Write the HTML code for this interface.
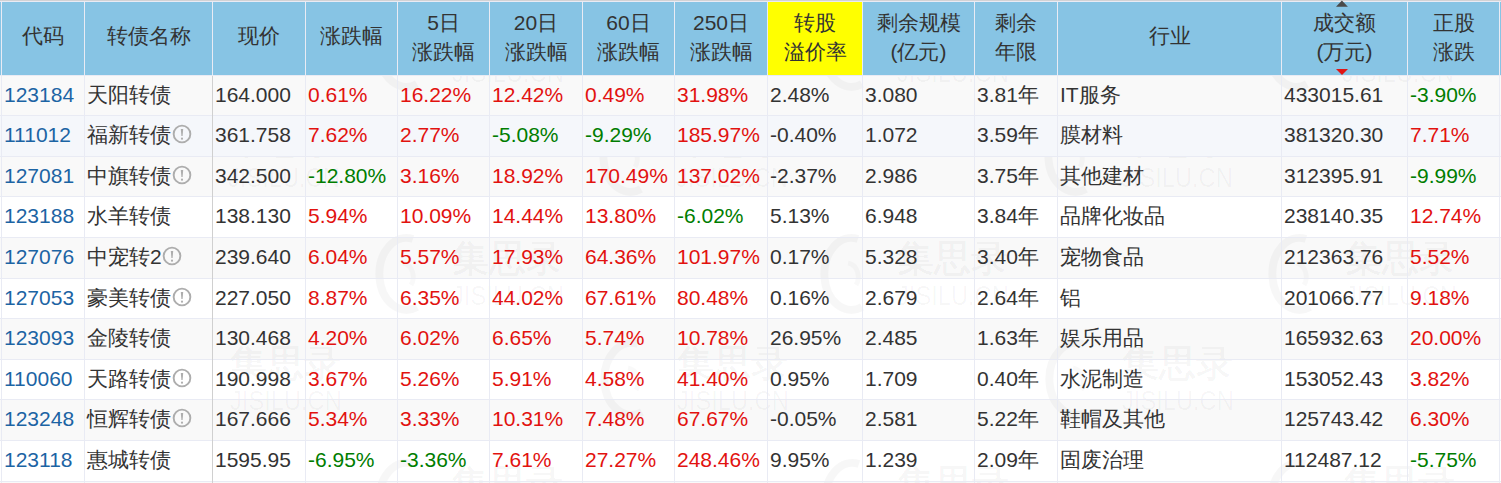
<!DOCTYPE html>
<html><head><meta charset="utf-8"><title>集思录 可转债</title>
<style>
html,body{margin:0;padding:0;}
body{width:1501px;height:483px;overflow:hidden;position:relative;background:#fff;
font-family:"Liberation Sans",sans-serif;font-size:21px;color:#333;}
.a{position:absolute;box-sizing:border-box;white-space:nowrap;overflow:hidden;}
.h{background:#87c4e4;color:#333;text-align:center;line-height:29px;display:flex;flex-direction:column;justify-content:center;padding-bottom:2.5px;}
.h.s{padding-bottom:5.5px;}
.h.y{background:#ffff00;}
.c{padding-left:2px;}
.r{color:#e2120f}.g{color:#007d00}.k{color:#1c64a4}
.vl{position:absolute;width:1px;background:#e9ebf4;}
.hl{position:absolute;height:1px;background:#e9ebf4;left:0;width:1501px;}
.wm1{font-size:37px;line-height:46px;font-weight:bold;color:rgba(0,0,0,0.035);}
.wm2{font-size:28.5px;line-height:28px;color:rgba(0,0,0,0.035);transform:scaleX(0.83);transform-origin:0 0;letter-spacing:0px;}
.nm{display:inline-block;}
.ic{display:inline-block;vertical-align:middle;margin-left:0.8px;position:relative;top:-2px;}
</style></head><body>

<div class="hl" style="top:0;background:#d2d2d4"></div>
<div class="hl" style="top:1px;background:#e9ebf4"></div>
<div class="a" style="left:0;top:2px;width:1501px;height:73px;background:#87c4e4"></div>
<div class="a h s" style="left:2px;top:2px;width:82px;height:73px"><div>代码</div></div>
<div class="a h s" style="left:85px;top:2px;width:127px;height:73px"><div>转债名称</div></div>
<div class="a h s" style="left:213px;top:2px;width:92px;height:73px"><div>现价</div></div>
<div class="a h s" style="left:306px;top:2px;width:91px;height:73px"><div>涨跌幅</div></div>
<div class="a h" style="left:398px;top:2px;width:91px;height:73px"><div>5日</div><div>涨跌幅</div></div>
<div class="a h" style="left:490px;top:2px;width:92px;height:73px"><div>20日</div><div>涨跌幅</div></div>
<div class="a h" style="left:583px;top:2px;width:91px;height:73px"><div>60日</div><div>涨跌幅</div></div>
<div class="a h" style="left:675px;top:2px;width:92px;height:73px"><div>250日</div><div>涨跌幅</div></div>
<div class="a h y" style="left:768px;top:2px;width:94px;height:73px"><div>转股</div><div>溢价率</div></div>
<div class="a h" style="left:863px;top:2px;width:111px;height:73px"><div>剩余规模</div><div>(亿元)</div></div>
<div class="a h" style="left:975px;top:2px;width:82px;height:73px"><div>剩余</div><div>年限</div></div>
<div class="a h s" style="left:1058px;top:2px;width:223px;height:73px"><div>行业</div></div>
<div class="a h" style="left:1282px;top:2px;width:125px;height:73px"><div>成交额</div><div>(万元)</div></div>
<div class="a h" style="left:1408px;top:2px;width:91px;height:73px"><div>正股</div><div>涨跌</div></div>
<svg class="a" style="left:1336px;top:0px" width="13" height="8" viewBox="0 0 13 8"><polygon points="0,6.8 5.9,0.6 11.9,6.8" fill="#4a4a4a"/></svg>
<svg class="a" style="left:1336px;top:68px" width="13" height="8" viewBox="0 0 13 8"><polygon points="0,1 12,1 6,6.9" fill="#e01515"/></svg>
<div class="hl" style="top:75px;background:#e9ebf4"></div>
<div class="a" style="left:0;top:76px;width:1501px;height:39px;background:#f9f9f9"></div>
<div class="a" style="left:0;top:116px;width:1501px;height:40px;background:#f5f7fb"></div>
<div class="a" style="left:0;top:157px;width:1501px;height:39px;background:#f9f9f9"></div>
<div class="a" style="left:0;top:197px;width:1501px;height:40px;background:#ffffff"></div>
<div class="a" style="left:0;top:238px;width:1501px;height:40px;background:#f9f9f9"></div>
<div class="a" style="left:0;top:279px;width:1501px;height:39px;background:#ffffff"></div>
<div class="a" style="left:0;top:319px;width:1501px;height:40px;background:#f9f9f9"></div>
<div class="a" style="left:0;top:360px;width:1501px;height:39px;background:#ffffff"></div>
<div class="a" style="left:0;top:400px;width:1501px;height:40px;background:#f9f9f9"></div>
<div class="a" style="left:0;top:441px;width:1501px;height:40px;background:#ffffff"></div>
<div class="a" style="left:0;top:482px;width:1501px;height:1px;background:#f9f9f9"></div>
<div class="a" style="left:213px;top:76px;width:1288px;height:407px;overflow:hidden">
<svg class="a" style="left:-286px;top:-66px" width="60" height="82" viewBox="0 0 60 82"><path d="M40 6 A27 36 0 1 0 44 74" fill="none" stroke="rgba(0,0,0,0.03)" stroke-width="8"/><path d="M30 30 A12 14 0 0 1 38 52" fill="none" stroke="rgba(0,0,0,0.025)" stroke-width="5"/></svg>
<div class="a wm1" style="left:-207px;top:-63px">集思录</div>
<div class="a wm2" style="left:-207px;top:-18px">JISILU.CN</div>
<svg class="a" style="left:160px;top:-66px" width="60" height="82" viewBox="0 0 60 82"><path d="M40 6 A27 36 0 1 0 44 74" fill="none" stroke="rgba(0,0,0,0.03)" stroke-width="8"/><path d="M30 30 A12 14 0 0 1 38 52" fill="none" stroke="rgba(0,0,0,0.025)" stroke-width="5"/></svg>
<div class="a wm1" style="left:239px;top:-63px">集思录</div>
<div class="a wm2" style="left:239px;top:-18px">JISILU.CN</div>
<svg class="a" style="left:605px;top:-66px" width="60" height="82" viewBox="0 0 60 82"><path d="M40 6 A27 36 0 1 0 44 74" fill="none" stroke="rgba(0,0,0,0.03)" stroke-width="8"/><path d="M30 30 A12 14 0 0 1 38 52" fill="none" stroke="rgba(0,0,0,0.025)" stroke-width="5"/></svg>
<div class="a wm1" style="left:684px;top:-63px">集思录</div>
<div class="a wm2" style="left:684px;top:-18px">JISILU.CN</div>
<svg class="a" style="left:1050px;top:-66px" width="60" height="82" viewBox="0 0 60 82"><path d="M40 6 A27 36 0 1 0 44 74" fill="none" stroke="rgba(0,0,0,0.03)" stroke-width="8"/><path d="M30 30 A12 14 0 0 1 38 52" fill="none" stroke="rgba(0,0,0,0.025)" stroke-width="5"/></svg>
<div class="a wm1" style="left:1129px;top:-63px">集思录</div>
<div class="a wm2" style="left:1129px;top:-18px">JISILU.CN</div>
<svg class="a" style="left:-64px;top:39px" width="60" height="82" viewBox="0 0 60 82"><path d="M40 6 A27 36 0 1 0 44 74" fill="none" stroke="rgba(0,0,0,0.03)" stroke-width="8"/><path d="M30 30 A12 14 0 0 1 38 52" fill="none" stroke="rgba(0,0,0,0.025)" stroke-width="5"/></svg>
<div class="a wm1" style="left:15px;top:42px">集思录</div>
<div class="a wm2" style="left:15px;top:87px">JISILU.CN</div>
<svg class="a" style="left:384px;top:39px" width="60" height="82" viewBox="0 0 60 82"><path d="M40 6 A27 36 0 1 0 44 74" fill="none" stroke="rgba(0,0,0,0.03)" stroke-width="8"/><path d="M30 30 A12 14 0 0 1 38 52" fill="none" stroke="rgba(0,0,0,0.025)" stroke-width="5"/></svg>
<div class="a wm1" style="left:463px;top:42px">集思录</div>
<div class="a wm2" style="left:463px;top:87px">JISILU.CN</div>
<svg class="a" style="left:829px;top:39px" width="60" height="82" viewBox="0 0 60 82"><path d="M40 6 A27 36 0 1 0 44 74" fill="none" stroke="rgba(0,0,0,0.03)" stroke-width="8"/><path d="M30 30 A12 14 0 0 1 38 52" fill="none" stroke="rgba(0,0,0,0.025)" stroke-width="5"/></svg>
<div class="a wm1" style="left:908px;top:42px">集思录</div>
<div class="a wm2" style="left:908px;top:87px">JISILU.CN</div>
<svg class="a" style="left:-286px;top:157px" width="60" height="82" viewBox="0 0 60 82"><path d="M40 6 A27 36 0 1 0 44 74" fill="none" stroke="rgba(0,0,0,0.03)" stroke-width="8"/><path d="M30 30 A12 14 0 0 1 38 52" fill="none" stroke="rgba(0,0,0,0.025)" stroke-width="5"/></svg>
<div class="a wm1" style="left:-207px;top:160px">集思录</div>
<div class="a wm2" style="left:-207px;top:205px">JISILU.CN</div>
<svg class="a" style="left:160px;top:157px" width="60" height="82" viewBox="0 0 60 82"><path d="M40 6 A27 36 0 1 0 44 74" fill="none" stroke="rgba(0,0,0,0.03)" stroke-width="8"/><path d="M30 30 A12 14 0 0 1 38 52" fill="none" stroke="rgba(0,0,0,0.025)" stroke-width="5"/></svg>
<div class="a wm1" style="left:239px;top:160px">集思录</div>
<div class="a wm2" style="left:239px;top:205px">JISILU.CN</div>
<svg class="a" style="left:605px;top:157px" width="60" height="82" viewBox="0 0 60 82"><path d="M40 6 A27 36 0 1 0 44 74" fill="none" stroke="rgba(0,0,0,0.03)" stroke-width="8"/><path d="M30 30 A12 14 0 0 1 38 52" fill="none" stroke="rgba(0,0,0,0.025)" stroke-width="5"/></svg>
<div class="a wm1" style="left:684px;top:160px">集思录</div>
<div class="a wm2" style="left:684px;top:205px">JISILU.CN</div>
<svg class="a" style="left:1053px;top:157px" width="60" height="82" viewBox="0 0 60 82"><path d="M40 6 A27 36 0 1 0 44 74" fill="none" stroke="rgba(0,0,0,0.03)" stroke-width="8"/><path d="M30 30 A12 14 0 0 1 38 52" fill="none" stroke="rgba(0,0,0,0.025)" stroke-width="5"/></svg>
<div class="a wm1" style="left:1132px;top:160px">集思录</div>
<div class="a wm2" style="left:1132px;top:205px">JISILU.CN</div>
<svg class="a" style="left:-62px;top:262px" width="60" height="82" viewBox="0 0 60 82"><path d="M40 6 A27 36 0 1 0 44 74" fill="none" stroke="rgba(0,0,0,0.03)" stroke-width="8"/><path d="M30 30 A12 14 0 0 1 38 52" fill="none" stroke="rgba(0,0,0,0.025)" stroke-width="5"/></svg>
<div class="a wm1" style="left:17px;top:265px">集思录</div>
<div class="a wm2" style="left:17px;top:310px">JISILU.CN</div>
<svg class="a" style="left:385px;top:262px" width="60" height="82" viewBox="0 0 60 82"><path d="M40 6 A27 36 0 1 0 44 74" fill="none" stroke="rgba(0,0,0,0.03)" stroke-width="8"/><path d="M30 30 A12 14 0 0 1 38 52" fill="none" stroke="rgba(0,0,0,0.025)" stroke-width="5"/></svg>
<div class="a wm1" style="left:464px;top:265px">集思录</div>
<div class="a wm2" style="left:464px;top:310px">JISILU.CN</div>
<svg class="a" style="left:830px;top:262px" width="60" height="82" viewBox="0 0 60 82"><path d="M40 6 A27 36 0 1 0 44 74" fill="none" stroke="rgba(0,0,0,0.03)" stroke-width="8"/><path d="M30 30 A12 14 0 0 1 38 52" fill="none" stroke="rgba(0,0,0,0.025)" stroke-width="5"/></svg>
<div class="a wm1" style="left:909px;top:265px">集思录</div>
<div class="a wm2" style="left:909px;top:310px">JISILU.CN</div>
<svg class="a" style="left:-286px;top:382px" width="60" height="82" viewBox="0 0 60 82"><path d="M40 6 A27 36 0 1 0 44 74" fill="none" stroke="rgba(0,0,0,0.03)" stroke-width="8"/><path d="M30 30 A12 14 0 0 1 38 52" fill="none" stroke="rgba(0,0,0,0.025)" stroke-width="5"/></svg>
<div class="a wm1" style="left:-207px;top:385px">集思录</div>
<div class="a wm2" style="left:-207px;top:430px">JISILU.CN</div>
<svg class="a" style="left:160px;top:382px" width="60" height="82" viewBox="0 0 60 82"><path d="M40 6 A27 36 0 1 0 44 74" fill="none" stroke="rgba(0,0,0,0.03)" stroke-width="8"/><path d="M30 30 A12 14 0 0 1 38 52" fill="none" stroke="rgba(0,0,0,0.025)" stroke-width="5"/></svg>
<div class="a wm1" style="left:239px;top:385px">集思录</div>
<div class="a wm2" style="left:239px;top:430px">JISILU.CN</div>
<svg class="a" style="left:606px;top:382px" width="60" height="82" viewBox="0 0 60 82"><path d="M40 6 A27 36 0 1 0 44 74" fill="none" stroke="rgba(0,0,0,0.03)" stroke-width="8"/><path d="M30 30 A12 14 0 0 1 38 52" fill="none" stroke="rgba(0,0,0,0.025)" stroke-width="5"/></svg>
<div class="a wm1" style="left:685px;top:385px">集思录</div>
<div class="a wm2" style="left:685px;top:430px">JISILU.CN</div>
<svg class="a" style="left:1052px;top:382px" width="60" height="82" viewBox="0 0 60 82"><path d="M40 6 A27 36 0 1 0 44 74" fill="none" stroke="rgba(0,0,0,0.03)" stroke-width="8"/><path d="M30 30 A12 14 0 0 1 38 52" fill="none" stroke="rgba(0,0,0,0.025)" stroke-width="5"/></svg>
<div class="a wm1" style="left:1131px;top:385px">集思录</div>
<div class="a wm2" style="left:1131px;top:430px">JISILU.CN</div>
</div>
<div class="a" style="left:0;top:116px;width:1501px;height:40px;background:#f5f7fb"></div>
<div class="a c k" style="left:2px;top:76px;width:82px;height:39px;line-height:37px">123184</div>
<div class="a c " style="left:85px;top:76px;width:127px;height:39px;line-height:37px"><span class="nm" style="width:84.00px">天阳转债</span></div>
<div class="a c " style="left:213px;top:76px;width:92px;height:39px;line-height:37px">164.000</div>
<div class="a c r" style="left:306px;top:76px;width:91px;height:39px;line-height:37px">0.61%</div>
<div class="a c r" style="left:398px;top:76px;width:91px;height:39px;line-height:37px">16.22%</div>
<div class="a c r" style="left:490px;top:76px;width:92px;height:39px;line-height:37px">12.42%</div>
<div class="a c r" style="left:583px;top:76px;width:91px;height:39px;line-height:37px">0.49%</div>
<div class="a c r" style="left:675px;top:76px;width:92px;height:39px;line-height:37px">31.98%</div>
<div class="a c " style="left:768px;top:76px;width:94px;height:39px;line-height:37px">2.48%</div>
<div class="a c " style="left:863px;top:76px;width:111px;height:39px;line-height:37px">3.080</div>
<div class="a c " style="left:975px;top:76px;width:82px;height:39px;line-height:37px">3.81年</div>
<div class="a c " style="left:1058px;top:76px;width:223px;height:39px;line-height:37px">IT服务</div>
<div class="a c " style="left:1282px;top:76px;width:125px;height:39px;line-height:37px">433015.61</div>
<div class="a c g" style="left:1408px;top:76px;width:91px;height:39px;line-height:37px">-3.90%</div>
<div class="hl" style="top:115px"></div>
<div class="a c k" style="left:2px;top:116px;width:82px;height:40px;line-height:38px">111012</div>
<div class="a c " style="left:85px;top:116px;width:127px;height:40px;line-height:38px"><span class="nm" style="width:84.00px">福新转债</span><svg class="ic" width="20" height="20" viewBox="0 0 20 20"><circle cx="10" cy="10" r="8.35" fill="none" stroke="#adadad" stroke-width="1.9"/><path d="M8.8 4.9 L11.2 4.9 L10.6 11.9 L9.4 11.9 Z" fill="#adadad"/><circle cx="10" cy="14.7" r="1.1" fill="#adadad"/></svg></div>
<div class="a c " style="left:213px;top:116px;width:92px;height:40px;line-height:38px">361.758</div>
<div class="a c r" style="left:306px;top:116px;width:91px;height:40px;line-height:38px">7.62%</div>
<div class="a c r" style="left:398px;top:116px;width:91px;height:40px;line-height:38px">2.77%</div>
<div class="a c g" style="left:490px;top:116px;width:92px;height:40px;line-height:38px">-5.08%</div>
<div class="a c g" style="left:583px;top:116px;width:91px;height:40px;line-height:38px">-9.29%</div>
<div class="a c r" style="left:675px;top:116px;width:92px;height:40px;line-height:38px">185.97%</div>
<div class="a c " style="left:768px;top:116px;width:94px;height:40px;line-height:38px">-0.40%</div>
<div class="a c " style="left:863px;top:116px;width:111px;height:40px;line-height:38px">1.072</div>
<div class="a c " style="left:975px;top:116px;width:82px;height:40px;line-height:38px">3.59年</div>
<div class="a c " style="left:1058px;top:116px;width:223px;height:40px;line-height:38px">膜材料</div>
<div class="a c " style="left:1282px;top:116px;width:125px;height:40px;line-height:38px">381320.30</div>
<div class="a c r" style="left:1408px;top:116px;width:91px;height:40px;line-height:38px">7.71%</div>
<div class="hl" style="top:156px"></div>
<div class="a c k" style="left:2px;top:157px;width:82px;height:39px;line-height:37px">127081</div>
<div class="a c " style="left:85px;top:157px;width:127px;height:39px;line-height:37px"><span class="nm" style="width:84.00px">中旗转债</span><svg class="ic" width="20" height="20" viewBox="0 0 20 20"><circle cx="10" cy="10" r="8.35" fill="none" stroke="#adadad" stroke-width="1.9"/><path d="M8.8 4.9 L11.2 4.9 L10.6 11.9 L9.4 11.9 Z" fill="#adadad"/><circle cx="10" cy="14.7" r="1.1" fill="#adadad"/></svg></div>
<div class="a c " style="left:213px;top:157px;width:92px;height:39px;line-height:37px">342.500</div>
<div class="a c g" style="left:306px;top:157px;width:91px;height:39px;line-height:37px">-12.80%</div>
<div class="a c r" style="left:398px;top:157px;width:91px;height:39px;line-height:37px">3.16%</div>
<div class="a c r" style="left:490px;top:157px;width:92px;height:39px;line-height:37px">18.92%</div>
<div class="a c r" style="left:583px;top:157px;width:91px;height:39px;line-height:37px">170.49%</div>
<div class="a c r" style="left:675px;top:157px;width:92px;height:39px;line-height:37px">137.02%</div>
<div class="a c " style="left:768px;top:157px;width:94px;height:39px;line-height:37px">-2.37%</div>
<div class="a c " style="left:863px;top:157px;width:111px;height:39px;line-height:37px">2.986</div>
<div class="a c " style="left:975px;top:157px;width:82px;height:39px;line-height:37px">3.75年</div>
<div class="a c " style="left:1058px;top:157px;width:223px;height:39px;line-height:37px">其他建材</div>
<div class="a c " style="left:1282px;top:157px;width:125px;height:39px;line-height:37px">312395.91</div>
<div class="a c g" style="left:1408px;top:157px;width:91px;height:39px;line-height:37px">-9.99%</div>
<div class="hl" style="top:196px"></div>
<div class="a c k" style="left:2px;top:197px;width:82px;height:40px;line-height:38px">123188</div>
<div class="a c " style="left:85px;top:197px;width:127px;height:40px;line-height:38px"><span class="nm" style="width:84.00px">水羊转债</span></div>
<div class="a c " style="left:213px;top:197px;width:92px;height:40px;line-height:38px">138.130</div>
<div class="a c r" style="left:306px;top:197px;width:91px;height:40px;line-height:38px">5.94%</div>
<div class="a c r" style="left:398px;top:197px;width:91px;height:40px;line-height:38px">10.09%</div>
<div class="a c r" style="left:490px;top:197px;width:92px;height:40px;line-height:38px">14.44%</div>
<div class="a c r" style="left:583px;top:197px;width:91px;height:40px;line-height:38px">13.80%</div>
<div class="a c g" style="left:675px;top:197px;width:92px;height:40px;line-height:38px">-6.02%</div>
<div class="a c " style="left:768px;top:197px;width:94px;height:40px;line-height:38px">5.13%</div>
<div class="a c " style="left:863px;top:197px;width:111px;height:40px;line-height:38px">6.948</div>
<div class="a c " style="left:975px;top:197px;width:82px;height:40px;line-height:38px">3.84年</div>
<div class="a c " style="left:1058px;top:197px;width:223px;height:40px;line-height:38px">品牌化妆品</div>
<div class="a c " style="left:1282px;top:197px;width:125px;height:40px;line-height:38px">238140.35</div>
<div class="a c r" style="left:1408px;top:197px;width:91px;height:40px;line-height:38px">12.74%</div>
<div class="hl" style="top:237px"></div>
<div class="a c k" style="left:2px;top:238px;width:82px;height:40px;line-height:38px">127076</div>
<div class="a c " style="left:85px;top:238px;width:127px;height:40px;line-height:38px"><span class="nm" style="width:74.68px">中宠转2</span><svg class="ic" width="20" height="20" viewBox="0 0 20 20"><circle cx="10" cy="10" r="8.35" fill="none" stroke="#adadad" stroke-width="1.9"/><path d="M8.8 4.9 L11.2 4.9 L10.6 11.9 L9.4 11.9 Z" fill="#adadad"/><circle cx="10" cy="14.7" r="1.1" fill="#adadad"/></svg></div>
<div class="a c " style="left:213px;top:238px;width:92px;height:40px;line-height:38px">239.640</div>
<div class="a c r" style="left:306px;top:238px;width:91px;height:40px;line-height:38px">6.04%</div>
<div class="a c r" style="left:398px;top:238px;width:91px;height:40px;line-height:38px">5.57%</div>
<div class="a c r" style="left:490px;top:238px;width:92px;height:40px;line-height:38px">17.93%</div>
<div class="a c r" style="left:583px;top:238px;width:91px;height:40px;line-height:38px">64.36%</div>
<div class="a c r" style="left:675px;top:238px;width:92px;height:40px;line-height:38px">101.97%</div>
<div class="a c " style="left:768px;top:238px;width:94px;height:40px;line-height:38px">0.17%</div>
<div class="a c " style="left:863px;top:238px;width:111px;height:40px;line-height:38px">5.328</div>
<div class="a c " style="left:975px;top:238px;width:82px;height:40px;line-height:38px">3.40年</div>
<div class="a c " style="left:1058px;top:238px;width:223px;height:40px;line-height:38px">宠物食品</div>
<div class="a c " style="left:1282px;top:238px;width:125px;height:40px;line-height:38px">212363.76</div>
<div class="a c r" style="left:1408px;top:238px;width:91px;height:40px;line-height:38px">5.52%</div>
<div class="hl" style="top:278px"></div>
<div class="a c k" style="left:2px;top:279px;width:82px;height:39px;line-height:37px">127053</div>
<div class="a c " style="left:85px;top:279px;width:127px;height:39px;line-height:37px"><span class="nm" style="width:84.00px">豪美转债</span><svg class="ic" width="20" height="20" viewBox="0 0 20 20"><circle cx="10" cy="10" r="8.35" fill="none" stroke="#adadad" stroke-width="1.9"/><path d="M8.8 4.9 L11.2 4.9 L10.6 11.9 L9.4 11.9 Z" fill="#adadad"/><circle cx="10" cy="14.7" r="1.1" fill="#adadad"/></svg></div>
<div class="a c " style="left:213px;top:279px;width:92px;height:39px;line-height:37px">227.050</div>
<div class="a c r" style="left:306px;top:279px;width:91px;height:39px;line-height:37px">8.87%</div>
<div class="a c r" style="left:398px;top:279px;width:91px;height:39px;line-height:37px">6.35%</div>
<div class="a c r" style="left:490px;top:279px;width:92px;height:39px;line-height:37px">44.02%</div>
<div class="a c r" style="left:583px;top:279px;width:91px;height:39px;line-height:37px">67.61%</div>
<div class="a c r" style="left:675px;top:279px;width:92px;height:39px;line-height:37px">80.48%</div>
<div class="a c " style="left:768px;top:279px;width:94px;height:39px;line-height:37px">0.16%</div>
<div class="a c " style="left:863px;top:279px;width:111px;height:39px;line-height:37px">2.679</div>
<div class="a c " style="left:975px;top:279px;width:82px;height:39px;line-height:37px">2.64年</div>
<div class="a c " style="left:1058px;top:279px;width:223px;height:39px;line-height:37px">铝</div>
<div class="a c " style="left:1282px;top:279px;width:125px;height:39px;line-height:37px">201066.77</div>
<div class="a c r" style="left:1408px;top:279px;width:91px;height:39px;line-height:37px">9.18%</div>
<div class="hl" style="top:318px"></div>
<div class="a c k" style="left:2px;top:319px;width:82px;height:40px;line-height:38px">123093</div>
<div class="a c " style="left:85px;top:319px;width:127px;height:40px;line-height:38px"><span class="nm" style="width:84.00px">金陵转债</span></div>
<div class="a c " style="left:213px;top:319px;width:92px;height:40px;line-height:38px">130.468</div>
<div class="a c r" style="left:306px;top:319px;width:91px;height:40px;line-height:38px">4.20%</div>
<div class="a c r" style="left:398px;top:319px;width:91px;height:40px;line-height:38px">6.02%</div>
<div class="a c r" style="left:490px;top:319px;width:92px;height:40px;line-height:38px">6.65%</div>
<div class="a c r" style="left:583px;top:319px;width:91px;height:40px;line-height:38px">5.74%</div>
<div class="a c r" style="left:675px;top:319px;width:92px;height:40px;line-height:38px">10.78%</div>
<div class="a c " style="left:768px;top:319px;width:94px;height:40px;line-height:38px">26.95%</div>
<div class="a c " style="left:863px;top:319px;width:111px;height:40px;line-height:38px">2.485</div>
<div class="a c " style="left:975px;top:319px;width:82px;height:40px;line-height:38px">1.63年</div>
<div class="a c " style="left:1058px;top:319px;width:223px;height:40px;line-height:38px">娱乐用品</div>
<div class="a c " style="left:1282px;top:319px;width:125px;height:40px;line-height:38px">165932.63</div>
<div class="a c r" style="left:1408px;top:319px;width:91px;height:40px;line-height:38px">20.00%</div>
<div class="hl" style="top:359px"></div>
<div class="a c k" style="left:2px;top:360px;width:82px;height:39px;line-height:37px">110060</div>
<div class="a c " style="left:85px;top:360px;width:127px;height:39px;line-height:37px"><span class="nm" style="width:84.00px">天路转债</span><svg class="ic" width="20" height="20" viewBox="0 0 20 20"><circle cx="10" cy="10" r="8.35" fill="none" stroke="#adadad" stroke-width="1.9"/><path d="M8.8 4.9 L11.2 4.9 L10.6 11.9 L9.4 11.9 Z" fill="#adadad"/><circle cx="10" cy="14.7" r="1.1" fill="#adadad"/></svg></div>
<div class="a c " style="left:213px;top:360px;width:92px;height:39px;line-height:37px">190.998</div>
<div class="a c r" style="left:306px;top:360px;width:91px;height:39px;line-height:37px">3.67%</div>
<div class="a c r" style="left:398px;top:360px;width:91px;height:39px;line-height:37px">5.26%</div>
<div class="a c r" style="left:490px;top:360px;width:92px;height:39px;line-height:37px">5.91%</div>
<div class="a c r" style="left:583px;top:360px;width:91px;height:39px;line-height:37px">4.58%</div>
<div class="a c r" style="left:675px;top:360px;width:92px;height:39px;line-height:37px">41.40%</div>
<div class="a c " style="left:768px;top:360px;width:94px;height:39px;line-height:37px">0.95%</div>
<div class="a c " style="left:863px;top:360px;width:111px;height:39px;line-height:37px">1.709</div>
<div class="a c " style="left:975px;top:360px;width:82px;height:39px;line-height:37px">0.40年</div>
<div class="a c " style="left:1058px;top:360px;width:223px;height:39px;line-height:37px">水泥制造</div>
<div class="a c " style="left:1282px;top:360px;width:125px;height:39px;line-height:37px">153052.43</div>
<div class="a c r" style="left:1408px;top:360px;width:91px;height:39px;line-height:37px">3.82%</div>
<div class="hl" style="top:399px"></div>
<div class="a c k" style="left:2px;top:400px;width:82px;height:40px;line-height:38px">123248</div>
<div class="a c " style="left:85px;top:400px;width:127px;height:40px;line-height:38px"><span class="nm" style="width:84.00px">恒辉转债</span><svg class="ic" width="20" height="20" viewBox="0 0 20 20"><circle cx="10" cy="10" r="8.35" fill="none" stroke="#adadad" stroke-width="1.9"/><path d="M8.8 4.9 L11.2 4.9 L10.6 11.9 L9.4 11.9 Z" fill="#adadad"/><circle cx="10" cy="14.7" r="1.1" fill="#adadad"/></svg></div>
<div class="a c " style="left:213px;top:400px;width:92px;height:40px;line-height:38px">167.666</div>
<div class="a c r" style="left:306px;top:400px;width:91px;height:40px;line-height:38px">5.34%</div>
<div class="a c r" style="left:398px;top:400px;width:91px;height:40px;line-height:38px">3.33%</div>
<div class="a c r" style="left:490px;top:400px;width:92px;height:40px;line-height:38px">10.31%</div>
<div class="a c r" style="left:583px;top:400px;width:91px;height:40px;line-height:38px">7.48%</div>
<div class="a c r" style="left:675px;top:400px;width:92px;height:40px;line-height:38px">67.67%</div>
<div class="a c " style="left:768px;top:400px;width:94px;height:40px;line-height:38px">-0.05%</div>
<div class="a c " style="left:863px;top:400px;width:111px;height:40px;line-height:38px">2.581</div>
<div class="a c " style="left:975px;top:400px;width:82px;height:40px;line-height:38px">5.22年</div>
<div class="a c " style="left:1058px;top:400px;width:223px;height:40px;line-height:38px">鞋帽及其他</div>
<div class="a c " style="left:1282px;top:400px;width:125px;height:40px;line-height:38px">125743.42</div>
<div class="a c r" style="left:1408px;top:400px;width:91px;height:40px;line-height:38px">6.30%</div>
<div class="hl" style="top:440px"></div>
<div class="a c k" style="left:2px;top:441px;width:82px;height:40px;line-height:38px">123118</div>
<div class="a c " style="left:85px;top:441px;width:127px;height:40px;line-height:38px"><span class="nm" style="width:84.00px">惠城转债</span></div>
<div class="a c " style="left:213px;top:441px;width:92px;height:40px;line-height:38px">1595.95</div>
<div class="a c g" style="left:306px;top:441px;width:91px;height:40px;line-height:38px">-6.95%</div>
<div class="a c g" style="left:398px;top:441px;width:91px;height:40px;line-height:38px">-3.36%</div>
<div class="a c r" style="left:490px;top:441px;width:92px;height:40px;line-height:38px">7.61%</div>
<div class="a c r" style="left:583px;top:441px;width:91px;height:40px;line-height:38px">27.27%</div>
<div class="a c r" style="left:675px;top:441px;width:92px;height:40px;line-height:38px">248.46%</div>
<div class="a c " style="left:768px;top:441px;width:94px;height:40px;line-height:38px">9.95%</div>
<div class="a c " style="left:863px;top:441px;width:111px;height:40px;line-height:38px">1.239</div>
<div class="a c " style="left:975px;top:441px;width:82px;height:40px;line-height:38px">2.09年</div>
<div class="a c " style="left:1058px;top:441px;width:223px;height:40px;line-height:38px">固废治理</div>
<div class="a c " style="left:1282px;top:441px;width:125px;height:40px;line-height:38px">112487.12</div>
<div class="a c g" style="left:1408px;top:441px;width:91px;height:40px;line-height:38px">-5.75%</div>
<div class="hl" style="top:481px"></div>
<div class="vl" style="left:1px;top:1px;height:74px;background:#e9ebf4"></div>
<div class="vl" style="left:1px;top:76px;height:407px;background:#e9ebf4"></div>
<div class="vl" style="left:84px;top:1px;height:74px;background:#e9ebf4"></div>
<div class="vl" style="left:84px;top:76px;height:407px;background:#e9ebf4"></div>
<div class="vl" style="left:212px;top:1px;height:74px;background:#e9ebf4"></div>
<div class="vl" style="left:212px;top:76px;height:407px;background:#d0d0d0"></div>
<div class="vl" style="left:305px;top:1px;height:74px;background:#e9ebf4"></div>
<div class="vl" style="left:305px;top:76px;height:407px;background:#e9ebf4"></div>
<div class="vl" style="left:397px;top:1px;height:74px;background:#e9ebf4"></div>
<div class="vl" style="left:397px;top:76px;height:407px;background:#e9ebf4"></div>
<div class="vl" style="left:489px;top:1px;height:74px;background:#e9ebf4"></div>
<div class="vl" style="left:489px;top:76px;height:407px;background:#e9ebf4"></div>
<div class="vl" style="left:582px;top:1px;height:74px;background:#e9ebf4"></div>
<div class="vl" style="left:582px;top:76px;height:407px;background:#e9ebf4"></div>
<div class="vl" style="left:674px;top:1px;height:74px;background:#e9ebf4"></div>
<div class="vl" style="left:674px;top:76px;height:407px;background:#e9ebf4"></div>
<div class="vl" style="left:767px;top:1px;height:74px;background:#e9ebf4"></div>
<div class="vl" style="left:767px;top:76px;height:407px;background:#e9ebf4"></div>
<div class="vl" style="left:862px;top:1px;height:74px;background:#e9ebf4"></div>
<div class="vl" style="left:862px;top:76px;height:407px;background:#e9ebf4"></div>
<div class="vl" style="left:974px;top:1px;height:74px;background:#e9ebf4"></div>
<div class="vl" style="left:974px;top:76px;height:407px;background:#e9ebf4"></div>
<div class="vl" style="left:1057px;top:1px;height:74px;background:#e9ebf4"></div>
<div class="vl" style="left:1057px;top:76px;height:407px;background:#e9ebf4"></div>
<div class="vl" style="left:1281px;top:1px;height:74px;background:#e9ebf4"></div>
<div class="vl" style="left:1281px;top:76px;height:407px;background:#e9ebf4"></div>
<div class="vl" style="left:1407px;top:1px;height:74px;background:#e9ebf4"></div>
<div class="vl" style="left:1407px;top:76px;height:407px;background:#e9ebf4"></div>
<div class="vl" style="left:1499px;top:1px;height:74px;background:#e9ebf4"></div>
<div class="vl" style="left:1499px;top:76px;height:407px;background:#e9ebf4"></div>
</body></html>
